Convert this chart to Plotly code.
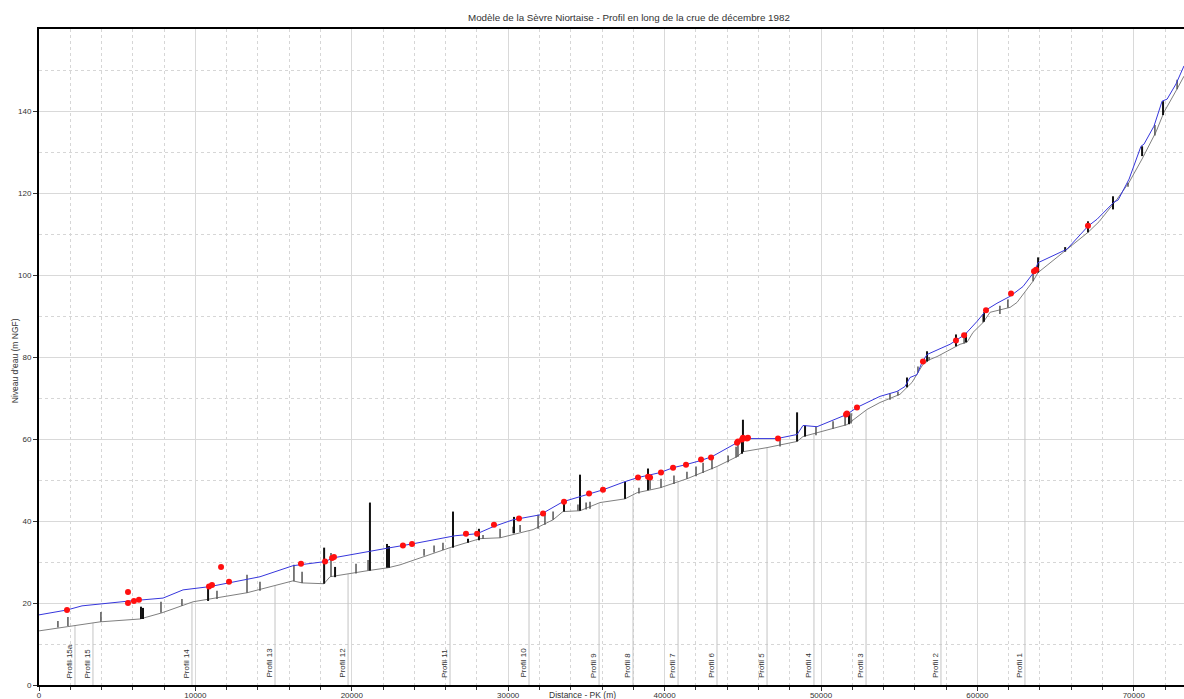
import numpy as np
import plotly.graph_objects as go

# ---- Data (distance PK in m, levels in m NGF) ----
water_x = [0, 1790, 2750, 3900, 5820, 7930, 9210, 10930, 12210, 14130, 16240, 18290, 18800,
           21160, 22320, 23850, 26090, 26600, 28010, 29030, 30310, 32030, 33500, 34590, 36060,
           37470, 38300, 39710, 40540, 41310, 42270, 43030, 44630, 45270, 47190, 48470, 48850,
           49750, 51660, 52300, 53770, 54860, 55370, 55690, 56140, 56460, 56780, 57480, 58250,
           59210, 59980, 60610, 61250, 62090, 62920, 63620, 63880, 65730, 67070, 67650, 68740,
           69000, 69700, 70460, 70650, 71290, 71810, 72130, 72700, 73210]
water_y = [17.1, 18.3, 19.3, 19.8, 20.5, 21.2, 23.2, 24.0, 25.0, 26.4, 29.1, 30.1, 31.0,
           32.7, 33.4, 34.4, 35.9, 36.4, 36.9, 38.6, 40.3, 41.5, 44.7, 45.9, 47.6,
           49.6, 50.6, 51.8, 53.0, 53.7, 54.7, 55.7, 59.1, 60.1, 60.1, 61.1, 63.3,
           63.0, 66.0, 67.7, 70.4, 71.6, 72.8, 75.0, 75.7, 78.7, 80.6, 81.8, 83.1,
           85.5, 88.7, 91.6, 93.1, 94.8, 97.2, 100.7, 103.0, 106.3, 111.9, 113.6, 117.8,
           118.3, 123.4, 131.4, 131.9, 136.3, 142.4, 142.9, 146.6, 151.0]

bed_x = [0, 2300, 3900, 6460, 7860, 9850, 13300, 16240, 16820, 18220, 18610, 21040, 22320,
         23080, 26280, 28200, 29480, 31590, 32870, 33500, 34590, 35870, 37470, 38240, 39710,
         41430, 43350, 44630, 45010, 46550, 48470, 48850, 51660, 52940, 53770, 55050, 55500,
         55820, 56200, 56520, 56970, 57420, 58060, 58890, 59340, 59720, 60360, 60810, 62090,
         62530, 63560, 63880, 65480, 67070, 67780, 68930, 69700, 70530, 71420, 71930, 72770, 73210]
bed_y = [13.2, 14.6, 15.4, 16.1, 17.6, 20.3, 22.5, 25.4, 24.9, 24.7, 26.4, 27.9, 28.6,
         29.3, 33.5, 35.7, 35.9, 37.9, 40.3, 42.3, 42.5, 44.5, 45.4, 46.9, 48.1,
         50.3, 53.3, 55.7, 56.9, 57.9, 59.4, 60.6, 63.5, 67.2, 68.9, 70.9, 72.6,
         73.8, 76.2, 78.2, 79.4, 80.1, 81.4, 83.1, 83.6, 86.0, 88.4, 90.9, 92.1,
         93.3, 98.5, 100.6, 105.5, 110.4, 113.0, 118.5, 122.6, 128.3, 134.9, 139.7, 145.4, 148.5]

obs_x = [1790, 5690, 5690, 6070, 6390, 10870, 11060, 11640, 12150, 16750, 18290, 18740, 18860,
         23270, 23850, 27300, 28010, 29090, 30690, 32230, 33570, 35170, 36060, 38300, 38940,
         39070, 39770, 40540, 41370, 42330, 42970, 44630, 44690, 44950, 45010, 45270, 45330,
         47250, 51600, 51660, 52300, 56520, 58630, 59150, 60550, 62150, 63620, 63750, 67070]
obs_y = [18.3, 22.7, 20.0, 20.5, 20.8, 24.0, 24.4, 28.8, 25.2, 29.6, 30.1, 31.0, 31.2,
         34.0, 34.4, 36.9, 36.9, 39.1, 40.6, 41.8, 44.7, 46.7, 47.6, 50.6, 50.8,
         50.6, 51.8, 53.0, 53.7, 55.0, 55.5, 59.1, 59.4, 59.9, 60.3, 60.1, 60.3,
         60.1, 66.0, 66.2, 67.7, 78.9, 84.0, 85.3, 91.4, 95.5, 100.9, 101.3, 112.0]

# structures (ouvrages) : position, bottom level, top level
ouv_x = [6520, 6650, 10810, 18230, 18930, 21160, 22250, 22380, 26470, 27430, 28130, 30370,
         33570, 34590, 37470, 38940, 44950, 45010, 48470, 48980, 51790, 55500, 56780, 58630,
         59270, 60420, 63880, 65610, 67070, 68670, 70530, 71870]
ouv_bot = [16.1, 16.1, 20.5, 24.7, 26.3, 27.9, 28.6, 28.6, 33.5, 34.7, 35.3, 37.0,
           42.3, 42.5, 45.4, 47.5, 56.4, 56.9, 59.4, 60.6, 63.6, 72.6, 78.9, 82.6,
           83.6, 88.6, 100.6, 105.7, 110.4, 116.0, 129.0, 139.0]
ouv_top = [19.1, 18.8, 24.0, 33.5, 28.8, 44.5, 34.4, 33.9, 42.3, 35.7, 38.1, 41.0,
           45.2, 51.3, 49.6, 52.8, 59.9, 64.7, 66.5, 63.3, 66.5, 75.0, 81.4, 85.5,
           85.9, 90.9, 104.3, 106.8, 113.1, 119.2, 131.4, 142.4]

# secondary structures (seuils)
seu_x = [1210, 1850, 3960, 7800, 9140, 11380, 13300, 14130, 16300, 16820, 18670, 20270, 21040,
         24620, 25260, 25830, 28390, 29480, 30310, 30760, 31910, 32350, 32870, 34460, 34980,
         35230, 38360, 39070, 39770, 40600, 41430, 42010, 42460, 43030, 44060, 44570, 44690,
         47380, 49680, 50770, 51540, 51920, 54410, 54920, 56200, 56910, 59150, 60360, 61440,
         61950, 63560, 69630, 71350, 72770]
seu_bot = [14.0, 14.4, 15.4, 17.6, 19.3, 21.0, 22.5, 23.0, 25.3, 24.9, 26.4, 27.2, 27.9,
           31.5, 32.3, 32.9, 35.7, 35.9, 37.0, 37.3, 38.1, 39.1, 40.3, 42.5, 42.8,
           43.0, 46.7, 47.7, 48.1, 49.0, 50.3, 50.9, 51.7, 52.6, 54.3, 55.5, 55.7,
           58.2, 60.9, 62.5, 63.3, 63.8, 69.6, 70.6, 76.2, 79.2, 83.3, 88.4, 90.5,
           92.0, 98.5, 121.5, 134.0, 145.3]
seu_top = [15.6, 16.6, 17.8, 20.3, 21.0, 23.0, 26.9, 25.2, 29.3, 27.6, 32.2, 29.6, 30.5,
           33.2, 34.0, 34.7, 36.6, 38.1, 38.6, 39.0, 41.5, 42.0, 42.3, 44.0, 44.5,
           44.7, 48.1, 50.6, 50.3, 51.1, 52.0, 53.3, 54.2, 55.2, 56.0, 58.1, 59.1,
           59.9, 63.0, 64.3, 65.5, 66.3, 71.1, 71.6, 77.7, 80.0, 85.5, 90.4, 92.5,
           94.0, 100.7, 122.5, 136.6, 147.6]

profile_names = ["Profil 15a", "Profil 15", "Profil 14", "Profil 13", "Profil 12", "Profil 11",
                 "Profil 10", "Profil 9", "Profil 8", "Profil 7", "Profil 6", "Profil 5",
                 "Profil 4", "Profil 3", "Profil 2", "Profil 1"]
profile_x = [2300, 3450, 9780, 15090, 19760, 26280, 31330, 35810, 37980, 40860, 43350, 46550,
             49550, 52880, 57670, 63040]

x_major = [0, 10000, 20000, 30000, 40000, 50000, 60000, 70000]
y_major = [0, 20, 40, 60, 80, 100, 120, 140]
y_minor = [10, 30, 50, 70, 90, 110, 130, 150]

# ---- Figure ----
fig = go.Figure()

# profile lines from 0 to bed
prof_bed = np.interp(profile_x, bed_x, bed_y)
px_, py_ = [], []
for x, b in zip(profile_x, prof_bed):
    px_ += [x, x, None]
    py_ += [0, b, None]
fig.add_trace(go.Scatter(x=px_, y=py_, mode="lines", line=dict(color="#c4c4c4", width=1),
                         hoverinfo="skip", showlegend=False))

# bed
fig.add_trace(go.Scatter(x=bed_x, y=bed_y, mode="lines", line=dict(color="#808080", width=1),
                         name="Fond", showlegend=False))

# secondary structures
sx, sy = [], []
for x, b, t in zip(seu_x, seu_bot, seu_top):
    sx += [x, x, None]
    sy += [b, t, None]
fig.add_trace(go.Scatter(x=sx, y=sy, mode="lines", line=dict(color="#555555", width=1.5),
                         hoverinfo="skip", showlegend=False))

# main structures
ox, oy = [], []
for x, b, t in zip(ouv_x, ouv_bot, ouv_top):
    ox += [x, x, None]
    oy += [b, t, None]
fig.add_trace(go.Scatter(x=ox, y=oy, mode="lines", line=dict(color="#111111", width=2),
                         hoverinfo="skip", showlegend=False))

# water level
fig.add_trace(go.Scatter(x=water_x, y=water_y, mode="lines", line=dict(color="#3636dc", width=1),
                         name="Ligne d'eau", showlegend=False))

# observed levels
fig.add_trace(go.Scatter(x=obs_x, y=obs_y, mode="markers",
                         marker=dict(color="#ff1010", size=6, symbol="circle"),
                         name="Laisses de crue", showlegend=False))

FONT = "Liberation Sans, Arial, sans-serif"

for name, x in zip(profile_names, profile_x):
    fig.add_annotation(x=x, y=1.2, xref="x", yref="y", text=name, showarrow=False,
                       textangle=-90, xanchor="right", yanchor="bottom", xshift=1,
                       font=dict(family=FONT, size=8, color="#333333"))

fig.add_annotation(text="Modèle de la Sèvre Niortaise - Profil en long de la crue de décembre 1982",
                   xref="paper", yref="paper", x=0.515, y=1.0, yshift=12, showarrow=False,
                   xanchor="center", yanchor="middle",
                   font=dict(family=FONT, size=9.8, color="#333333"))
fig.add_annotation(text="Niveau d'eau (m NGF)", xref="paper", yref="paper",
                   x=-0.021, y=0.495, textangle=-90, showarrow=False,
                   xanchor="center", yanchor="middle",
                   font=dict(family=FONT, size=8.5, color="#333333"))
fig.add_annotation(text="Distance - PK (m)", xref="paper", yref="paper",
                   x=0.475, y=-0.0155, showarrow=False, xanchor="center", yanchor="middle",
                   font=dict(family=FONT, size=8.5, color="#333333"))

fig.update_layout(
    width=1184, height=699,
    margin=dict(l=39, r=0, t=29, b=14),
    paper_bgcolor="white", plot_bgcolor="white",
    font=dict(family=FONT, size=8, color="#333333"),
    showlegend=False,
)
fig.update_xaxes(
    range=[0, 73210], tickmode="array", tickvals=x_major, tickformat="d",
    ticks="outside", ticklen=4, tickcolor="#333333", ticklabelstandoff=-3,
    showline=True, linewidth=2, linecolor="black", mirror=True,
    showgrid=True, gridcolor="#d9d9d9", gridwidth=1,
    minor=dict(dtick=2000, showgrid=True, gridcolor="#d6d6d6", griddash="dot",
               ticks="outside", ticklen=3, tickcolor="#333333"),
    zeroline=False, automargin=False,
    tickfont=dict(family=FONT, size=8, color="#333333"),
)
fig.update_yaxes(
    range=[0, 160], tickmode="array", tickvals=y_major,
    ticks="outside", ticklen=4, tickcolor="#333333",
    showline=True, linewidth=2, linecolor="black", mirror=False,
    showgrid=True, gridcolor="#d9d9d9", gridwidth=1,
    minor=dict(tickmode="array", tickvals=y_minor, showgrid=True, gridcolor="#d6d6d6",
               griddash="dot", ticks=""),
    zeroline=False, automargin=False,
    tickfont=dict(family=FONT, size=8, color="#333333"),
)

fig.write_html("out.html", config={"displayModeBar": False},
               post_script="document.body.style.margin='0';document.body.style.overflow='hidden';")
